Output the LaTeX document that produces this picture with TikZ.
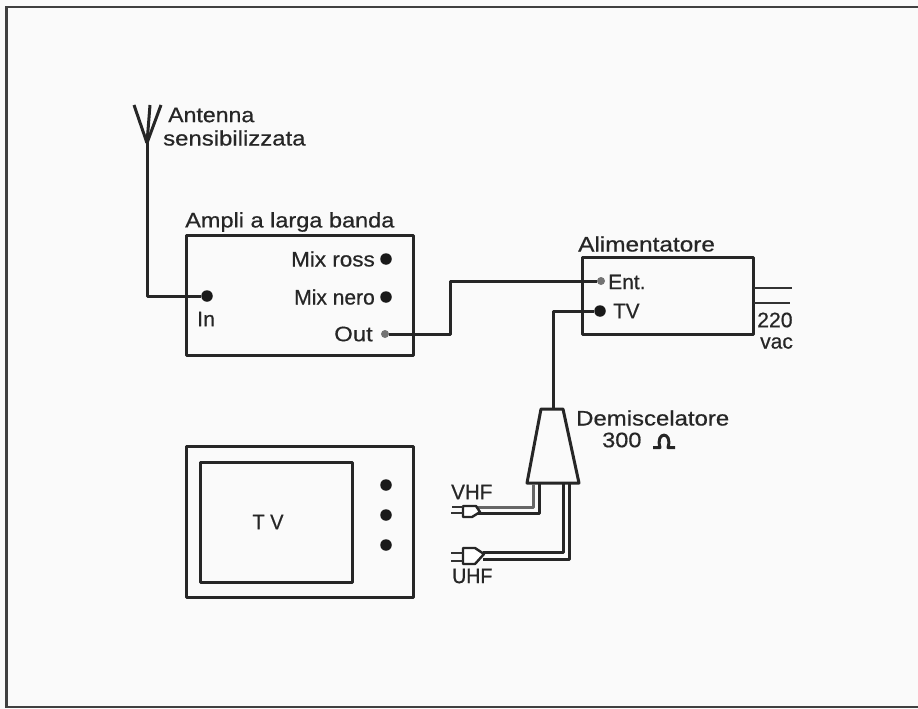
\documentclass[tikz,border=0pt]{standalone}
\usepackage{fontspec}
\setmainfont[FakeBold=0.6]{Liberation Sans}
\newcommand{\stx}[2]{\addfontfeature{FakeStretch=#1}#2}
\tikzset{
  lbl/.style={inner sep=0pt,font=\fontsize{21}{24}\selectfont,text=black!85},
  boxl/.style={draw=black!85,line width=3pt,line join=round},
  wire/.style={draw=black!85,line width=3pt,line join=round},
  thin wire/.style={draw=black!80,line width=2.4pt,line join=round},
  term/.style={circle,fill=black!90,inner sep=0pt,minimum size=11.5pt},
  small term/.style={circle,fill=black!55,inner sep=0pt,minimum size=8pt},
  plugl/.style={draw=black!85,line width=2.4pt,line join=round,fill=white}
}
\begin{document}
\begin{tikzpicture}[x=1pt,y=-1pt]
\useasboundingbox (0,0) rectangle (918,709);
\fill[white!98!black] (0,0) rectangle (918,709);
\draw[black!75,line width=2.6pt] (918,7) -- (6.5,7) -- (6.5,707) -- (918,707);
% amp
\draw[boxl] (186,235) rectangle (413,355);
\node[lbl,anchor=west] (amptitle) at (185,222) {\stx{1.12}{Ampli a larga banda}};
\node[lbl,anchor=east] (mr) at (375,259) {\stx{1.07}{Mix ross}};
\node[term] (mrd) at (386,259) {};
\node[lbl,anchor=east] (mn) at (375,297) {\stx{1.0}{Mix nero}};
\node[term] (mnd) at (386,297) {};
\node[lbl,anchor=east] (out) at (373,334) {\stx{1.14}{Out}};
\node[small term] (outd) at (385,334) {};
\node[term] (ind) at (207,296) {};
\node[lbl,anchor=west] (inl) at (197,319) {\stx{1.02}{In}};
% antenna
\coordinate (ant) at (147,143);
\coordinate (antb) at (147,296);
\draw[wire] (ant) -- (150,105);
\draw[wire] (ant) -- (134,105);
\draw[wire] (ant) -- (161,105);
\draw[wire] (ant) -- (antb) -- (ind);
\node[lbl,anchor=west] (a1) at (168,115) {\stx{1.1}{Antenna}};
\node[lbl,anchor=west] (a2) at (163,138) {\stx{1.14}{sensibilizzata}};
% alimentatore
\draw[boxl] (582,257) rectangle (753,334);
\node[lbl,anchor=west] (altitle) at (578,244) {\stx{1.16}{Alimentatore}};
\node[small term] (entd) at (601,281) {};
\node[lbl,anchor=west] (ent) at (608,282) {\stx{1.0}{Ent.}};
\node[term] (tvd) at (600,311) {};
\node[lbl,anchor=west] (tvl) at (613,311) {\stx{0.98}{TV}};
\coordinate (m1) at (450,334);
\coordinate (m2) at (450,281);
\draw[wire] (outd) -- (m1) -- (m2) -- (entd);
\coordinate (l1) at (754,288);
\coordinate (l2) at (792,288);
\coordinate (l3) at (754,303);
\coordinate (l4) at (790,303);
\draw[thin wire] (l1) -- (l2);
\draw[thin wire] (l3) -- (l4);
\node[lbl,anchor=west] (v1) at (757,320) {\stx{1.01}{220}};
\node[lbl,anchor=west] (v2) at (760,343) {\stx{1.0}{vac}};
% demix
\coordinate (dtop) at (553,408);
\draw[boxl] (541,409) -- (563,409) -- (579,483) -- (527,483) -- cycle;
\draw[wire] (tvd) -- (553,311) -- (dtop);
\node[lbl,anchor=west] (dem) at (576,418) {\stx{1.14}{Demiscelatore}};
\node[lbl,anchor=west] (ohm) at (602,440) {\stx{1.12}{300}};
\draw[wire] (653,447.5) -- (660,447.5) .. controls (655,431) and (673,431) .. (668,447.5) -- (675,447.5);
% VHF / UHF
\node[lbl,anchor=west] (vhf) at (451,492) {\stx{0.98}{VHF}};
\node[lbl,anchor=west] (uhf) at (452,576) {\stx{0.93}{UHF}};
\draw[wire,draw=black!60] (533,484) -- (533,507) -- (477,507);
\draw[wire] (539,484) -- (539,513) -- (477,513);
\draw[wire] (563,484) -- (563,552) -- (483,552);
\draw[wire] (569,484) -- (569,559) -- (483,559);
% plugs
\draw[plugl] (463,506) -- (476,506) -- (480,512) -- (472,517) -- (463,517) -- cycle;
\draw[thin wire] (452,507) -- (463,507);
\draw[thin wire] (451,513) -- (463,513);
\draw[plugl] (463,548) -- (475,548) -- (484,554) -- (475,564) -- (463,564) -- cycle;
\draw[thin wire] (451,553) -- (463,553);
\draw[thin wire] (451,561) -- (463,561);
% TV
\draw[boxl] (186,446) rectangle (413,597);
\draw[boxl] (200,462) rectangle (352,582);
\node[lbl,anchor=center] (tv) at (268,522) {\stx{0.95}{T V}};
\node[term] (d1) at (386,485) {};
\node[term] (d2) at (386,515) {};
\node[term] (d3) at (386,545) {};
\end{tikzpicture}
\end{document}
